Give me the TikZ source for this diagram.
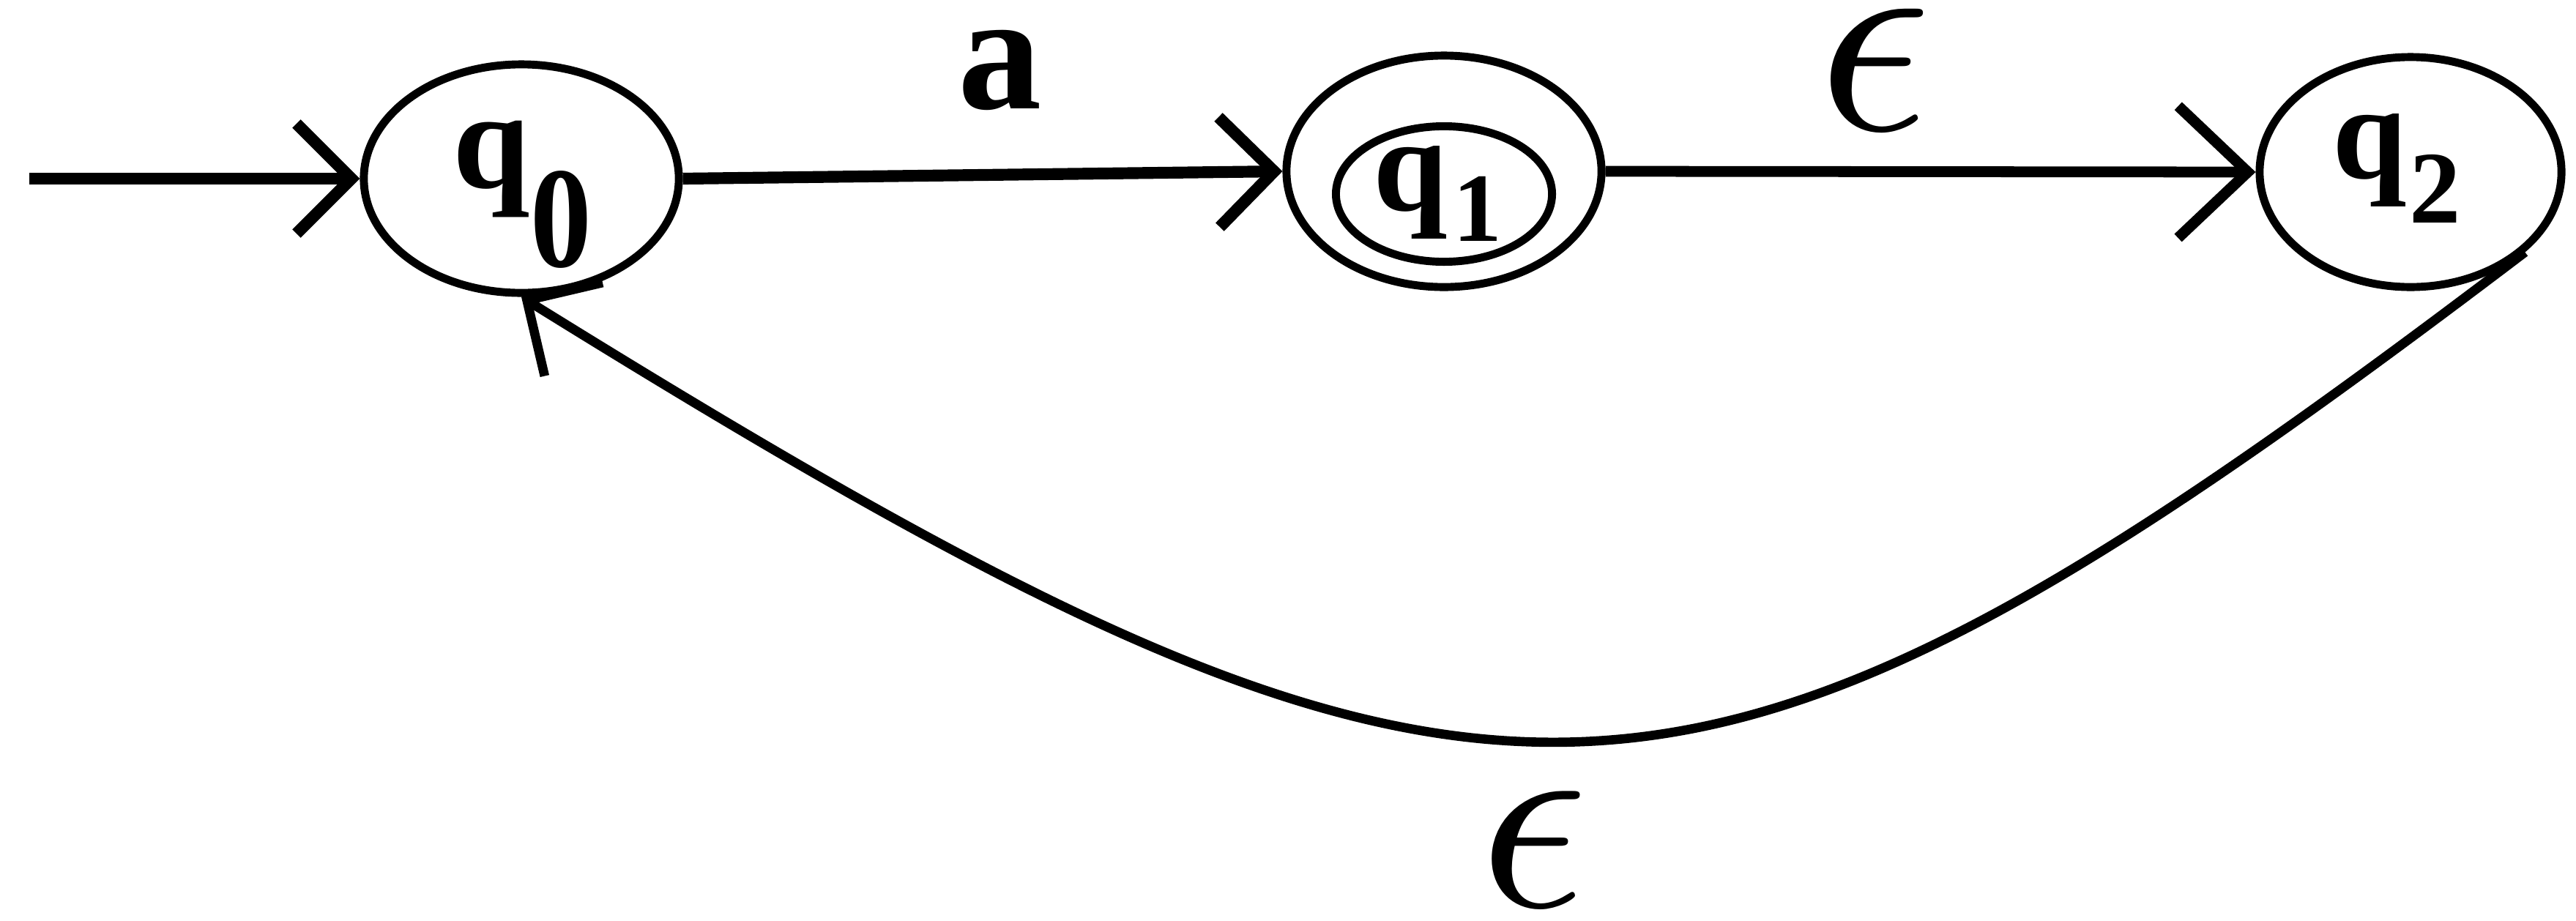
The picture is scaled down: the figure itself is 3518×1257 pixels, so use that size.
\documentclass[tikz,border=0pt]{standalone}
\usepackage{fontspec}
\setmainfont{Liberation Serif}
\usetikzlibrary{shapes.geometric,arrows.meta}
\tikzset{
  state/.style={draw, ellipse, line width=3.1pt, inner sep=0pt},
  lbl/.style={inner sep=0pt, anchor=base west},
  conn/.style={line width=4.6pt},
  barb/.style={-{Straight Barb[length=0.75cm,width=1.5cm]}},
  bigbarb/.style={-{Straight Barb[length=0.95cm,width=1.8cm]}},
  eps/.style={inner sep=0pt}
}
\begin{document}
\begin{tikzpicture}[x=0.01cm,y=-0.01cm]
\useasboundingbox (0,0) rectangle (3518,1257);
% states
\node[state, minimum width=4.30cm, minimum height=3.12cm] (q0) at (712,244) {};
\node[state, minimum width=4.30cm, minimum height=3.16cm] (q1) at (1972,234) {};
\node[state, minimum width=2.95cm, minimum height=1.85cm] (q1in) at (1972,265) {};
\node[state, minimum width=4.12cm, minimum height=3.14cm] (q2) at (3292,235) {};
% state labels
\node[lbl, font=\fontsize{54}{54}\selectfont\bfseries] (q0q) at (618,256) {q};
\node[lbl, xscale=0.85, font=\fontsize{56}{56}\selectfont\bfseries] (q0s) at (724,364) {0};
\node[lbl, font=\fontsize{52}{52}\selectfont\bfseries] (q1q) at (1875,287) {q};
\node[lbl, font=\fontsize{38}{38}\selectfont\bfseries] (q1s) at (1984,329) {1};
\node[lbl, font=\fontsize{52}{52}\selectfont\bfseries] (q2q) at (3185,243) {q};
\node[lbl, font=\fontsize{40}{40}\selectfont\bfseries] (q2s) at (3290,304) {2};
% start
\coordinate (start) at (40,244);
\draw[conn, barb] (start) -- (q0.west);
% transitions
\draw[conn, barb] (q0.east) -- (q1.west);
\draw[line width=4.2pt, bigbarb] (q1.east) -- (q2.west);
\draw[line width=3.6pt, barb] (q2.-35) .. controls (2294,1221) and (2039,1229) .. (q0.south);
% edge labels
\node[inner sep=0pt, anchor=base, font=\fontsize{65}{65}\selectfont\bfseries] (la) at (1366,148) {a};
\node[eps, scale=10.9] (le1) at (2560,95) {$\epsilon$};
\node[eps, scale=10.4] (le2) at (2095,1160) {$\epsilon$};
\end{tikzpicture}
\end{document}
